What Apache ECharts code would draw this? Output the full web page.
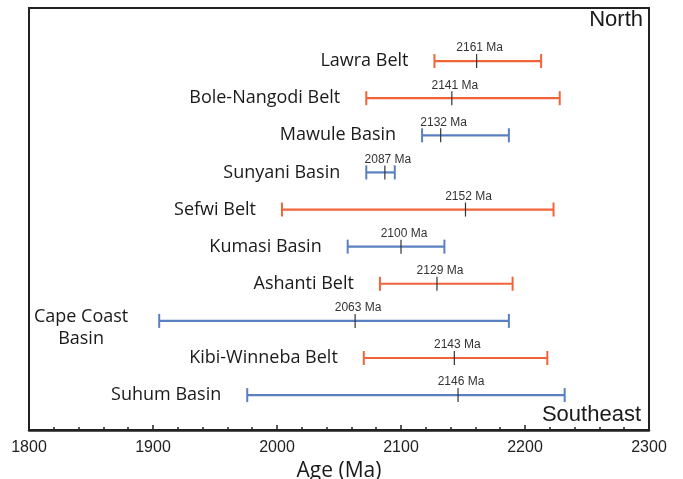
<!DOCTYPE html>
<html>
<head>
<meta charset="utf-8">
<script src="https://cdn.jsdelivr.net/npm/echarts@6/dist/echarts.min.js"></script>
<style>
  html, body { margin: 0; padding: 0; background: #fff; }
  #chart { width: 683px; height: 479px; }
</style>
</head>
<body>
<div id="chart"></div>
<script>
// Age ranges of Birimian belts and basins, listed north to southeast
const regions = [
  'Lawra Belt', 'Bole-Nangodi Belt', 'Mawule Basin', 'Sunyani Basin', 'Sefwi Belt',
  'Kumasi Basin', 'Ashanti Belt', 'Cape Coast\nBasin', 'Kibi-Winneba Belt', 'Suhum Basin'
];
const kinds = ['belt', 'belt', 'basin', 'basin', 'belt', 'basin', 'belt', 'basin', 'belt', 'basin'];
const minAges  = [2127, 2072, 2117, 2072, 2004, 2057, 2083, 1905, 2070, 1976];
const maxAges  = [2213, 2228, 2187, 2095, 2223, 2135, 2190, 2187, 2218, 2232];
const meanAges = [2161, 2141, 2132, 2087, 2152, 2100, 2129, 2063, 2143, 2146];
const ageTicks = [1800, 1900, 2000, 2100, 2200, 2300];

const colors = { belt: '#f0643a', basin: '#5b80c2' };
const nameFont = '18px "Open Sans"';

const measureCtx = document.createElement('canvas').getContext('2d');
function blockWidth(text, font) {
  measureCtx.font = font;
  return Math.max(...text.split('\n').map(s => measureCtx.measureText(s).width));
}

const rows = regions.map((name, i) => [minAges[i], maxAges[i], meanAges[i], regions.length - 1 - i, i]);

function renderRange(params, api) {
  const i = api.value(4);
  const row = api.value(3);
  const p0 = api.coord([api.value(0), row]);
  const p1 = api.coord([api.value(1), row]);
  const pm = api.coord([api.value(2), row]);
  const color = colors[kinds[i]];
  const y = p0[1];
  const capH = 7;
  const name = regions[i];
  const multi = name.indexOf('\n') >= 0;
  const gap = multi ? 31 : 26;
  const nameStyle = multi
    ? { x: p0[0] - gap - blockWidth(name, nameFont) / 2, y: y + 7, text: name, align: 'center',
        verticalAlign: 'middle', font: nameFont, fill: '#1a1a1a', lineHeight: 22 }
    : { x: p0[0] - gap, y: y, text: name, align: 'right', verticalAlign: 'middle',
        font: nameFont, fill: '#1a1a1a' };
  return {
    type: 'group',
    children: [
      { type: 'line', shape: { x1: p0[0], y1: y, x2: p1[0], y2: y },
        style: { stroke: color, lineWidth: 2.2 } },
      { type: 'line', shape: { x1: p0[0], y1: y - capH, x2: p0[0], y2: y + capH },
        style: { stroke: color, lineWidth: 2 } },
      { type: 'line', shape: { x1: p1[0], y1: y - capH, x2: p1[0], y2: y + capH },
        style: { stroke: color, lineWidth: 2 } },
      { type: 'line', shape: { x1: pm[0], y1: y - 7, x2: pm[0], y2: y + 7 },
        style: { stroke: '#333', lineWidth: 1.2 } },
      { type: 'text', style: { x: pm[0] + 3, y: y - 13, text: api.value(2) + ' Ma',
        align: 'center', verticalAlign: 'middle', font: '12px "Liberation Sans"', fill: '#333' } },
      { type: 'text', style: nameStyle }
    ]
  };
}

const chart = echarts.init(document.getElementById('chart'), null, { renderer: 'canvas' });
chart.setOption({
  animation: false,
  grid: {
    left: 29, right: 34, top: 8, bottom: 49,
    outerBoundsMode: 'none', containLabel: false,
    show: true, borderColor: '#222', borderWidth: 2
  },
  xAxis: {
    type: 'value',
    min: ageTicks[0], max: ageTicks[ageTicks.length - 1], interval: 100,
    name: 'Age (Ma)', nameLocation: 'middle', nameGap: 23,
    nameTextStyle: { fontFamily: 'Open Sans', fontSize: 21, color: '#1a1a1a' },
    axisLine: { show: true, onZero: false, lineStyle: { color: '#222', width: 2.5 } },
    axisTick: { show: true, inside: true, length: 5, lineStyle: { color: '#222', width: 1.5 } },
    minorTick: { show: true, splitNumber: 5, length: 3, lineStyle: { color: '#222', width: 1.5 } },
    axisLabel: {
      fontFamily: 'Liberation Sans', fontSize: 16, color: '#222', margin: 10,
      formatter: v => String(v)
    },
    splitLine: { show: false }
  },
  yAxis: {
    type: 'value', min: -0.94, max: 10.43, show: false
  },
  graphic: [
    { type: 'text', right: 40, top: 9,
      style: { text: 'North', font: '22px "Liberation Sans"', fill: '#1a1a1a' } },
    { type: 'text', right: 42, top: 404,
      style: { text: 'Southeast', font: '22px "Liberation Sans"', fill: '#1a1a1a' } }
  ],
  series: [{
    type: 'custom',
    renderItem: renderRange,
    encode: { x: [0, 1, 2], y: 3 },
    data: rows,
    clip: false
  }]
});
</script>
</body>
</html>
